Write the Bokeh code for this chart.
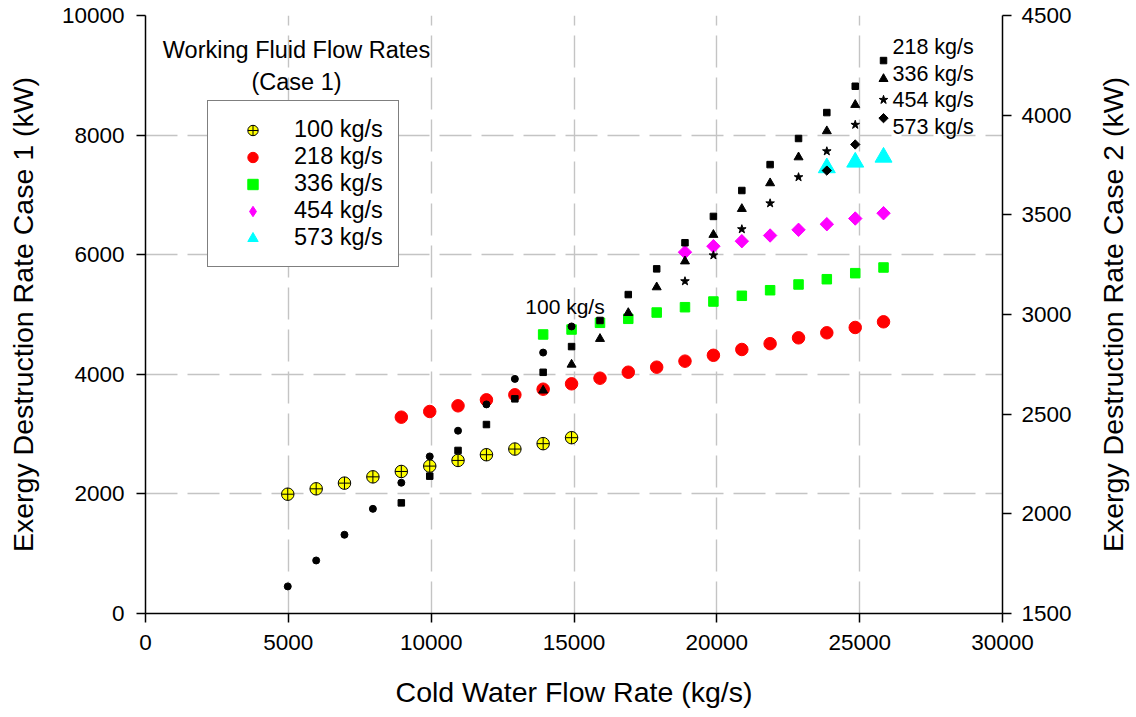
import math
from bokeh.plotting import figure
from bokeh.layouts import row
from bokeh.models import Range1d, LinearAxis, FixedTicker, Legend, LegendItem, Label, Title
from bokeh.embed import file_html
from bokeh.resources import INLINE

# ---------------- data ----------------
cold_water = [4980, 5975, 6965, 7960, 8955, 9950, 10940, 11935, 12930, 13920, 14915,
              15910, 16900, 17895, 18885, 19880, 20875, 21865, 22860, 23850, 24845, 25835]

# Case 1 (left axis)
case1_100 = [1995, 2085, 2180, 2285, 2375, 2465, 2560, 2655, 2750, 2840, 2940]
case1_218 = [3283, 3378, 3473, 3573, 3657, 3751, 3841, 3935, 4035, 4119, 4220, 4318,
             4415, 4512, 4610, 4694, 4783, 4878]
case1_336 = [4666, 4749, 4861, 4928, 5033, 5122, 5217, 5313, 5406, 5502, 5590, 5691, 5786]
case1_454 = [6042, 6142, 6226, 6321, 6416, 6510, 6605, 6694]
case1_573 = [7453, 7547, 7630]

# Case 2 (right axis)
case2_100 = [1636, 1766, 1895, 2025, 2156, 2288, 2417, 2549, 2677, 2809, 2940]
case2_218 = [2055, 2189, 2318, 2448, 2577, 2710, 2839, 2970, 3100, 3229, 3360, 3492,
             3622, 3752, 3883, 4013, 4145, 4274]
case2_336 = [2619, 2749, 2878, 3008, 3137, 3267, 3400, 3530, 3659, 3789, 3920, 4052, 4182]
case2_454 = [3167, 3297, 3428, 3558, 3689, 3819, 3952, 4077]
case2_573 = [3722, 3853, 3985]

# cold-water flow rate values at which each working-fluid series exists
x_100 = cold_water[:11]
x_218 = cold_water[4:]
x_336 = cold_water[9:]
x_454 = cold_water[14:]
x_573 = cold_water[19:]

series_labels = ["100 kg/s", "218 kg/s", "336 kg/s", "454 kg/s", "573 kg/s"]
x_ticks = [0, 5000, 10000, 15000, 20000, 25000, 30000]
y1_ticks = [0, 2000, 4000, 6000, 8000, 10000]
y2_ticks = [1500, 2000, 2500, 3000, 3500, 4000, 4500]

FONT = "Liberation Sans"

p = figure(width=1094, height=717, output_backend="svg", toolbar_location=None,
           x_range=Range1d(0, 30000), y_range=Range1d(0, 10000),
           min_border_left=145, min_border_right=92, min_border_top=15,
           min_border_bottom=104)
p.outline_line_color = None
p.background_fill_color = "white"
p.border_fill_color = "white"

p.extra_y_ranges = {"r": Range1d(1500, 4500)}

# grid
for g in (p.xgrid, p.ygrid):
    g.grid_line_color = "#c4c4c4"
    g.grid_line_width = 1.4
    g.grid_line_dash = "32 10"

def style_axis(ax, ticks, label):
    ax.ticker = FixedTicker(ticks=ticks)
    if label:
        ax.axis_label = label
    ax.axis_label_text_font = FONT
    ax.axis_label_text_font_size = "28.5px"
    ax.axis_label_text_font_style = "normal"
    ax.axis_label_text_color = "black"
    ax.major_label_text_font = FONT
    ax.major_label_text_font_size = "22.5px"
    ax.major_label_text_color = "black"
    ax.axis_line_color = "black"
    ax.axis_line_width = 1.5
    ax.major_tick_line_color = "black"
    ax.major_tick_line_width = 1.5
    ax.major_tick_out = 9
    ax.major_tick_in = 0
    ax.minor_tick_line_color = None

style_axis(p.xaxis[0], x_ticks, "Cold Water Flow Rate (kg/s)")
style_axis(p.yaxis[0], y1_ticks, "Exergy Destruction Rate Case 1 (kW)")
p.xaxis[0].major_label_standoff = 12
p.xaxis[0].axis_label_standoff = 23
p.yaxis[0].major_label_standoff = 12
p.yaxis[0].axis_label_standoff = 20

rax = LinearAxis(y_range_name="r")
style_axis(rax, y2_ticks, None)
rax.major_label_standoff = 10
p.add_layout(rax, "right")

# Case 1 markers
# legend proxy for the diamond symbol (drawn first, fully hidden under the rotated squares)
r4_leg = p.scatter(x_454, case1_454, marker="diamond", size=12.5,
                   fill_color="#ff00ff", line_color="#ff00ff")
r1 = p.scatter(x_100, case1_100, marker="circle_cross", size=12.5,
               fill_color="#ffff00", line_color="black", line_width=1)
r2 = p.scatter(x_218, case1_218, marker="circle", size=12.5,
               fill_color="#ff0000", line_color="#ff0000")
r3 = p.scatter(x_336, case1_336, marker="square", size=9.5,
               fill_color="#00ff00", line_color="#00ff00")
r4 = p.scatter(x_454, case1_454, marker="square", angle=math.pi / 4, size=9.5,
               fill_color="#ff00ff", line_color="#ff00ff")
r5 = p.scatter(x_573, case1_573, marker="triangle", size=17,
               fill_color="#00ffff", line_color="#00ffff")

# Case 2 markers (right axis)
p.scatter(x_100, case2_100, marker="circle", size=7, y_range_name="r",
          fill_color="black", line_color="black")
p.scatter(x_218, case2_218, marker="square", size=6.5, y_range_name="r",
          fill_color="black", line_color="black")
p.scatter(x_336, case2_336, marker="triangle", size=9, y_range_name="r",
          fill_color="black", line_color="black")
p.scatter(x_454, case2_454, marker="star", size=9, y_range_name="r",
          fill_color="black", line_color="black")
p.scatter(x_573, case2_573, marker="square", angle=math.pi / 4, size=6.6,
          y_range_name="r", fill_color="black", line_color="black")

legend = Legend(items=[LegendItem(label=l, renderers=[r]) for l, r in
                       zip(series_labels, [r1, r2, r3, r4_leg, r5])],
                location=(62, 346))
legend.label_text_font = FONT
legend.label_text_font_size = "23.5px"
legend.label_text_color = "black"
legend.border_line_color = "black"
legend.border_line_width = 1.2
legend.background_fill_color = "white"
legend.background_fill_alpha = 1
legend.padding = 15
legend.spacing = 0
legend.glyph_width = 59
legend.glyph_height = 26
legend.label_height = 26
legend.label_standoff = 12
legend.margin = 0
p.add_layout(legend, "center")

def label(x, y, text, size, align="left"):
    p.add_layout(Label(x=x, y=y, text=text, text_font=FONT, text_font_size=size,
                       text_align=align, text_baseline="middle", text_color="black"))

label(5286, 9431, "Working Fluid Flow Rates", "23.5px", "center")
label(5286, 8896, "(Case 1)", "23.5px", "center")
label(14685, 5142, "100 kg/s", "21px", "center")
label(26149, 9465, series_labels[1], "21.5px")
label(26149, 9025, series_labels[2], "21.5px")
label(26149, 8595, series_labels[3], "21.5px")
label(26149, 8132, series_labels[4], "21.5px")

# right-axis title (reads bottom to top) in a narrow companion panel
p2 = figure(width=42, height=717, output_backend="svg", toolbar_location=None,
            x_axis_type=None, y_axis_type=None,
            min_border_left=0, min_border_right=0, min_border_top=15,
            min_border_bottom=104)
p2.outline_line_color = None
p2.background_fill_color = "white"
p2.border_fill_color = "white"
p2.add_layout(Title(text="Exergy Destruction Rate Case 2 (kW)", align="center",
                    text_font=FONT, text_font_size="28.5px", text_font_style="normal",
                    text_color="black", standoff=0, offset=0), "left")

layout = row(p, p2, spacing=0)
open("out.html", "w").write(file_html(layout, INLINE))
